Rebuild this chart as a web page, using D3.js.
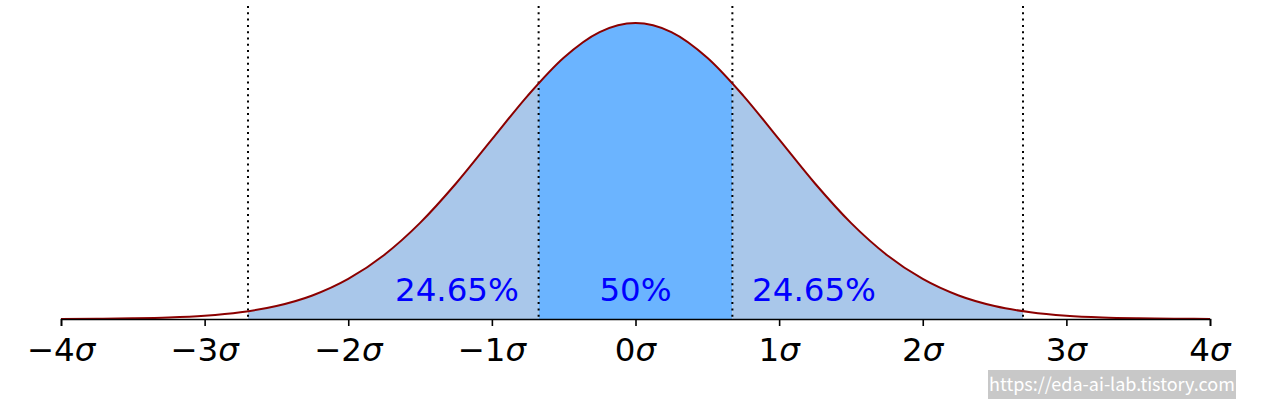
<!DOCTYPE html>
<html>
<head>
<meta charset="utf-8">
<script src="https://cdn.jsdelivr.net/npm/d3@7"></script>
<style>
html,body{margin:0;padding:0;background:#fff;}
svg{display:block;}
</style>
</head>
<body>
<svg id="chart" width="1280" height="404"></svg>
<script>
// x positions in σ units and the density
const sigmaX = [-4,-3.75,-3.5,-3.25,-3,-2.75,-2.5,-2.25,-2,-1.75,-1.5,-1.25,-1,-0.75,-0.5,-0.25,0,0.25,0.5,0.75,1,1.25,1.5,1.75,2,2.25,2.5,2.75,3,3.25,3.5,3.75,4];
const density = [0.0001,0.0004,0.0009,0.0020,0.0044,0.0091,0.0175,0.0317,0.0540,0.0863,0.1295,0.1826,0.2420,0.3011,0.3521,0.3867,0.3989,0.3867,0.3521,0.3011,0.2420,0.1826,0.1295,0.0863,0.0540,0.0317,0.0175,0.0091,0.0044,0.0020,0.0009,0.0004,0.0001];
// quartile and whisker cut points (σ)
const cutPoints = [-2.698,-0.6745,0.6745,2.698];
// region labels
const regionLabels = ["24.65%","50%","24.65%"];
const regionCenters = [-1.243,0,1.243];
// tick labels
const tickValues = [-4,-3,-2,-1,0,1,2,3,4];
const tickNums = ["\u22124","\u22123","\u22122","\u22121","0","1","2","3","4"];
const watermark = "https://eda-ai-lab.tistory.com";

const svg = d3.select("#chart");
const x = d3.scaleLinear().domain([-4,4]).range([61,1210]);
const y = d3.scaleLinear().domain([0,0.3989]).range([319,23]);

const pts = sigmaX.map((v,i)=>[v,density[i]]);
const area = d3.area().x(d=>x(d[0])).y0(y(0)).y1(d=>y(d[1])).curve(d3.curveMonotoneX);
const line = d3.line().x(d=>x(d[0])).y(d=>y(d[1])).curve(d3.curveMonotoneX);

const defs = svg.append("defs");
const regions = [
  {id:"cl0", a:cutPoints[0], b:cutPoints[1], fill:"#a9c7ea"},
  {id:"cl1", a:cutPoints[1], b:cutPoints[2], fill:"#6bb4ff"},
  {id:"cl2", a:cutPoints[2], b:cutPoints[3], fill:"#a9c7ea"}
];
regions.forEach(r=>{
  defs.append("clipPath").attr("id",r.id).append("rect")
    .attr("x",x(r.a)).attr("y",0).attr("width",x(r.b)-x(r.a)).attr("height",y(0));
  svg.append("path").datum(pts).attr("d",area).attr("fill",r.fill)
    .attr("clip-path",`url(#${r.id})`);
});

// dotted lines
svg.selectAll("line.cut").data(cutPoints).join("line")
  .attr("x1",d=>x(d)).attr("x2",d=>x(d))
  .attr("y1",6).attr("y2",y(0))
  .attr("stroke","#000").attr("stroke-width",2)
  .attr("stroke-dasharray","2,4.3");

// curve
svg.append("path").datum(pts).attr("d",line)
  .attr("fill","none").attr("stroke","#8b0000").attr("stroke-width",2);

// axis
const axis = d3.axisBottom(x).tickValues(tickValues).tickSize(7).tickFormat("");
const g = svg.append("g").attr("transform",`translate(0,${y(0)})`).call(axis);
g.select(".domain").attr("stroke","#000").attr("stroke-width",1.6);
g.selectAll(".tick line").attr("stroke","#000").attr("stroke-width",1.6);

const tl = svg.append("g").selectAll("text").data(tickValues).join("text")
  .attr("x",d=>x(d)).attr("y",361)
  .attr("text-anchor","middle")
  .attr("font-family","DejaVu Sans")
  .attr("font-size",32.5)
  .attr("fill","#000");
tl.append("tspan").text((d,i)=>tickNums[i]);
tl.append("tspan").attr("font-style","italic").text("\u03c3");

// region labels
svg.append("g").selectAll("text").data(regionLabels).join("text")
  .attr("x",(d,i)=>x(regionCenters[i])).attr("y",y(0.0245))
  .attr("text-anchor","middle")
  .attr("font-family","DejaVu Sans")
  .attr("font-size",32.5)
  .attr("fill","#0000ff")
  .text(d=>d);

// watermark
svg.append("rect").attr("x",988).attr("y",370).attr("width",248).attr("height",29).attr("fill","#c8c8c8");
svg.append("text").attr("x",1112).attr("y",391).attr("text-anchor","middle")
  .attr("font-family","Noto Sans CJK KR, Noto Sans").attr("font-size",18).attr("fill","#fff")
  .text(watermark);
</script>
</body>
</html>
